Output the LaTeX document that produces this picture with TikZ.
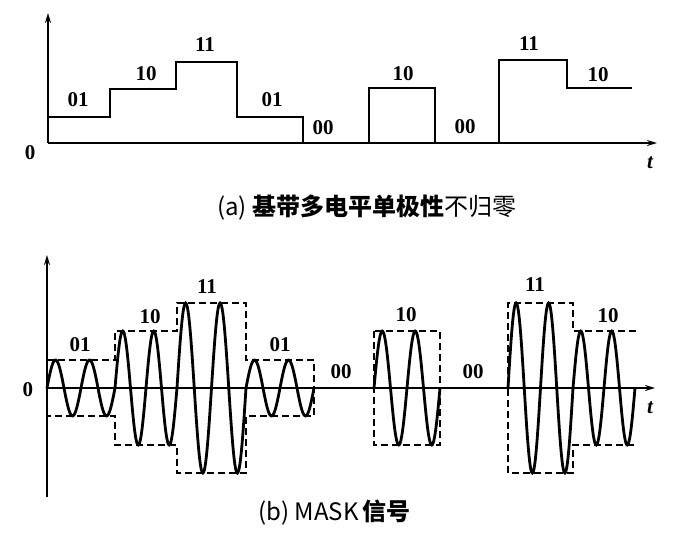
\documentclass[tikz,border=0pt]{standalone}
\usepackage{fontspec}
\setmainfont{Liberation Serif}
\newfontfamily\cjk{Noto Sans CJK SC}
\usetikzlibrary{arrows.meta}
\newcommand\wseg[3]{\draw[sig] plot[domain=0:720,samples=97,smooth] ({#1+(#2-#1)*(\x/720)},{388-#3*sin(\x)});}
\begin{document}
\begin{tikzpicture}[x=1pt,y=-1pt,
  axis/.style={line width=1.8pt,-{Stealth[length=10pt,width=6pt]}},
  sig/.style={line width=2.8pt,line join=miter},
  env/.style={line width=1.6pt,dash pattern=on 7pt off 4pt},
  lbl/.style={font=\bfseries\fontsize{21}{21}\selectfont,inner sep=0pt},
  captext/.style={font=\cjk\fontsize{24}{24}\selectfont,inner sep=0pt}]
\useasboundingbox[fill=white] (0,0) rectangle (678,541);
% ---------- (a) ----------
\draw[axis] (48,143) -- (48,13);
\draw[axis] (48,143) -- (657,143);
\draw[sig] (48,117) -- (110,117) -- (110,89) -- (176,89) -- (176,62) -- (237,62) -- (237,117) -- (303,117) -- (303,143) -- (369,143) -- (369,88) -- (435,88) -- (435,143) -- (499,143) -- (499,60) -- (567,60) -- (567,88) -- (632,88);
\node[lbl] (a0) at (30,153) {0};
\node[lbl] (at) at (650,163) {\itshape t};
\node[lbl] (a1) at (78,100) {01};
\node[lbl] (a2) at (146,74) {10};
\node[lbl] (a3) at (205,45) {11};
\node[lbl] (a4) at (272,100) {01};
\node[lbl] (a5) at (323,128) {00};
\node[lbl] (a6) at (403,74) {10};
\node[lbl] (a7) at (465,127) {00};
\node[lbl] (a8) at (529,44) {11};
\node[lbl] (a9) at (598,75) {10};
\node[captext,anchor=west] (capa) at (217,208) {(a) {\bfseries 基带多电平单极性}不归零};
% ---------- (b) ----------
\draw[axis] (47,497) -- (47,255);
\draw[axis] (47,388) -- (655,388);
\wseg{47}{115}{28}
\wseg{115}{177}{57}
\wseg{177}{246}{85}
\wseg{246}{314}{28}
\wseg{374}{440}{57}
\wseg{508}{573}{85}
\wseg{573}{635}{57}
\draw[env] (47,360) -- (115,360) -- (115,331) -- (177,331) -- (177,303) -- (246,303) -- (246,360) -- (314,360) -- (314,416) -- (246,416) -- (246,473) -- (177,473) -- (177,445) -- (115,445) -- (115,416) -- (47,416);
\draw[env] (374,331) rectangle (440,445);
\draw[env] (636,331) -- (573,331) -- (573,303) -- (508,303) -- (508,473) -- (573,473) -- (573,445) -- (636,445);
\node[lbl] (b0) at (28,390) {0};
\node[lbl] (bt) at (650,408) {\itshape t};
\node[lbl] (b1) at (80,345) {01};
\node[lbl] (b2) at (150,317) {10};
\node[lbl] (b3) at (207,287) {11};
\node[lbl] (b4) at (280,345) {01};
\node[lbl] (b5) at (341,372) {00};
\node[lbl] (b6) at (406,315) {10};
\node[lbl] (b7) at (473,372) {00};
\node[lbl] (b8) at (535,285) {11};
\node[lbl] (b9) at (608,316) {10};
\node[captext,anchor=west] (capb) at (258,513) {(b) MASK\,{\bfseries 信号}};
\end{tikzpicture}
\end{document}
